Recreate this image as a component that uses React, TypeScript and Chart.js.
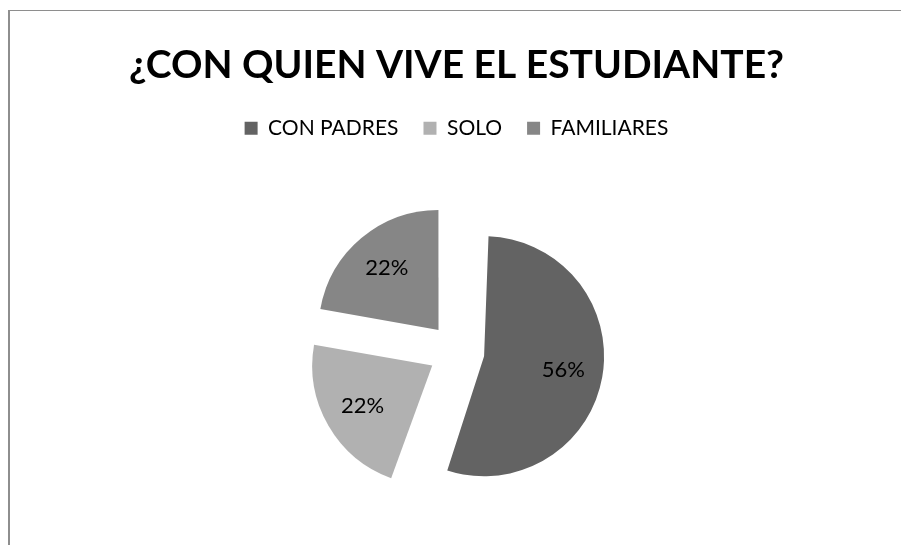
import React, { useEffect, useRef } from "react";
import { Chart, registerables } from "chart.js";

Chart.register(...registerables);

const TITLE = "¿CON QUIEN VIVE EL ESTUDIANTE?";
const categories = ["CON PADRES", "SOLO", "FAMILIARES"];
const values = [5, 2, 2];
const colors = ["#636363", "#b1b1b1", "#868686"];

const EXPLODE = 112; // Chart.js arc offset (translation = offset / 4)
const PIE_RADIUS = 120;
const LABEL_FRACTION = 0.67;
const FONT = "Lato, 'Open Sans', sans-serif";

const radiusFixPlugin = {
  id: "radiusFix",
  afterDatasetUpdate(chart: any, args: any) {
    const meta = args.meta;
    meta.data.forEach((arc: any) => {
      const off = (arc.options?.offset || 0) / 4;
      const circ = arc.circumference;
      const fix = 1 - Math.sin(Math.min(Math.PI, circ || 0));
      arc.outerRadius = arc.outerRadius - off * fix;
    });
  },
};

const pctLabelPlugin = {
  id: "pctLabels",
  afterDatasetsDraw(chart: any) {
    const ctx = chart.ctx;
    const meta = chart.getDatasetMeta(0);
    const data = chart.data.datasets[0].data as number[];
    const total = data.reduce((a, b) => a + b, 0);
    ctx.save();
    ctx.fillStyle = "#000";
    ctx.font = "22px " + FONT;
    ctx.textAlign = "center";
    ctx.textBaseline = "middle";
    meta.data.forEach((arc: any, i: number) => {
      const mid = (arc.startAngle + arc.endAngle) / 2;
      const off = (arc.options?.offset || 0) / 4;
      const r = PIE_RADIUS * LABEL_FRACTION + off;
      const x = arc.x + Math.cos(mid) * r;
      const y = arc.y + Math.sin(mid) * r;
      ctx.fillText(Math.round((data[i] / total) * 100) + "%", x, y);
    });
    ctx.restore();
  },
};

export default function App() {
  const ref = useRef<HTMLCanvasElement>(null);
  useEffect(() => {
    if (!ref.current) return;
    const chart = new Chart(ref.current, {
      type: "pie",
      data: {
        labels: categories,
        datasets: [
          {
            data: values,
            backgroundColor: colors,
            borderWidth: 0,
            offset: EXPLODE,
            radius: PIE_RADIUS,
          } as any,
        ],
      },
      options: {
        animation: false,
        responsive: false,
        maintainAspectRatio: false,
        layout: { padding: { bottom: 6 } },
        plugins: {
          title: {
            display: true,
            text: TITLE,
            color: "#000",
            font: { family: FONT, size: 39, weight: "bold" },
            padding: { top: 31, bottom: 4 },
          },
          legend: {
            display: true,
            position: "top",
            labels: {
              color: "#000",
              font: { family: FONT, size: 21 },
              boxWidth: 13,
              boxHeight: 13,
              padding: 25,
            },
          },
          tooltip: { enabled: false },
        },
      },
      plugins: [radiusFixPlugin, pctLabelPlugin],
    });
    return () => chart.destroy();
  }, []);
  return (
    <div
      style={{
        position: "fixed",
        left: 8,
        top: 10,
        width: 900,
        height: 560,
        borderLeft: "2px solid #8e8e8e",
        borderTop: "1px solid #8e8e8e",
        background: "#fff",
      }}
    >
      <canvas ref={ref} width={893} height={549} style={{ display: "block" }} />
    </div>
  );
}
